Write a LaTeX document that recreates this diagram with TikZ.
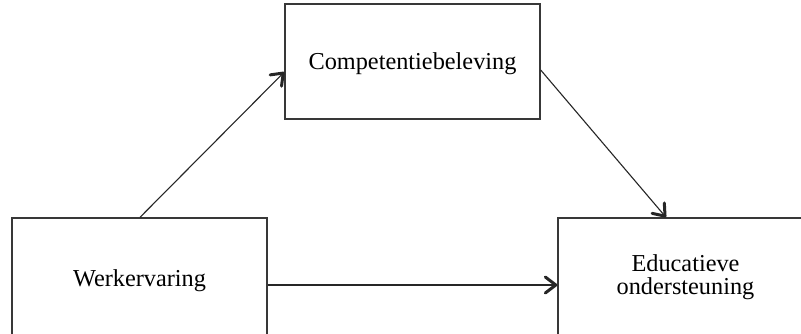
\documentclass[tikz,border=0pt]{standalone}
\usepackage{fontspec}
\setmainfont{Liberation Serif}
\usetikzlibrary{arrows.meta}
\newcommand{\lowered}[2]{\raisebox{-#1}[\height][\depth]{#2}}
\begin{document}
\begin{tikzpicture}[x=1pt,y=-1pt,
  box/.style={draw=black!78, line width=1.4pt, minimum width=255pt, inner sep=0pt,
    align=center, font=\fontsize{24.3}{23}\selectfont},
  conn/.style={draw=black!85, line width=1.1pt,
    -{Straight Barb[length=10.5pt,width=16pt,line width=3pt,round]}}]
\useasboundingbox[fill=white] (0,0) rectangle (801,333);
\node[box, minimum height=117pt] (w) at (139.5,276.5) {\lowered{4pt}{Werkervaring}};
\node[box, minimum height=115pt] (c) at (412.5,61.5) {\lowered{2pt}{Competentiebeleving}};
\node[box, minimum height=117pt] (e) at (685.5,276.5)
  {\lowered{1.5pt}{\begin{tabular}{@{}c@{}}Educatieve\\ondersteuning\end{tabular}}};
\draw[conn] ([xshift=0.5pt]w.north) -- ([yshift=-10.5pt]c.west);
\draw[conn] ([yshift=-8.5pt]c.east) -- ([xshift=-19.5pt]e.north);
\draw[conn] ([yshift=-8.5pt]w.east) -- ([yshift=-8.5pt]e.west);
\end{tikzpicture}
\end{document}
